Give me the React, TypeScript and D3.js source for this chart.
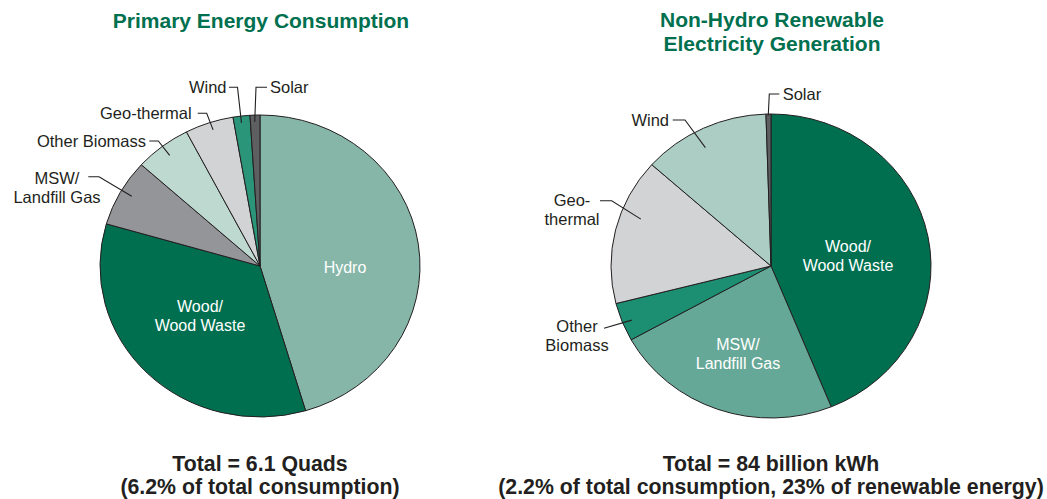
import React, { useEffect, useRef } from 'react';
import * as d3 from 'd3';

// --- data (shares, in percent) ---
const primaryCategories = ['Hydro', 'Wood/Wood Waste', 'MSW/Landfill Gas', 'Other Biomass', 'Geo-thermal', 'Wind', 'Solar'];
const primaryValues = [45.4, 34.1, 7.2, 5.7, 4.9, 1.7, 1.0];

const electricityCategories = ['Wood/Wood Waste', 'MSW/Landfill Gas', 'Other Biomass', 'Geo-thermal', 'Wind', 'Solar'];
const electricityValues = [43.9, 23.1, 4.1, 15.6, 12.9, 0.5];

const primaryTitle = ['Primary Energy Consumption'];
const primaryFooter = ['Total = 6.1 Quads', '(6.2% of total consumption)'];
const electricityTitle = ['Non-Hydro Renewable', 'Electricity Generation'];
const electricityFooter = ['Total = 84 billion kWh', '(2.2% of total consumption, 23% of renewable energy)'];

// --- styles ---
const FONT = '"Liberation Sans", Arial, sans-serif';
const TEXT = '#231f20';
const TITLE_GREEN = '#00704f';

const primaryColors: Record<string, string> = {
    'Hydro': '#85b6a7',
    'Wood/Wood Waste': '#006f4f',
    'MSW/Landfill Gas': '#939598',
    'Other Biomass': '#bdd9d0',
    'Geo-thermal': '#d1d3d4',
    'Wind': '#2b9579',
    'Solar': '#5d5f61',
};
const electricityColors: Record<string, string> = {
    'Wood/Wood Waste': '#006f4f',
    'MSW/Landfill Gas': '#66a897',
    'Other Biomass': '#1c8f73',
    'Geo-thermal': '#d1d3d4',
    'Wind': '#abcdc3',
    'Solar': '#5d5f61',
};

// label layout: lines, text anchor point, leader path start (elbow), and where on the slice it lands
interface LabelSpec {
    key: string;
    lines: string[];
    x: number;
    y: number; // first baseline
    anchor: 'start' | 'middle' | 'end';
    inner?: boolean;
    leader?: [number, number][]; // points before the slice point
    t?: number; // position across the slice (0..1)
    r?: number; // fraction of radius
}

const primaryLabels: LabelSpec[] = [
    { key: 'Hydro', lines: ['Hydro'], x: 345, y: 273, anchor: 'middle', inner: true },
    { key: 'Wood/Wood Waste', lines: ['Wood/', 'Wood Waste'], x: 200, y: 312, anchor: 'middle', inner: true },
    { key: 'MSW/Landfill Gas', lines: ['MSW/', 'Landfill Gas'], x: 57, y: 183.5, anchor: 'middle', leader: [[88.3, 176.7], [99, 176.7]], t: 0.53, r: 0.925 },
    { key: 'Other Biomass', lines: ['Other Biomass'], x: 146, y: 146.7, anchor: 'end', leader: [[149.3, 141], [158.3, 141]], t: 0.5, r: 0.925 },
    { key: 'Geo-thermal', lines: ['Geo-thermal'], x: 191.7, y: 119, anchor: 'end', leader: [[197.7, 113.3], [206.7, 113.3]], t: 0.53, r: 0.948 },
    { key: 'Wind', lines: ['Wind'], x: 226.5, y: 93, anchor: 'end', leader: [[229, 87.3], [237.5, 87.3]], t: 0.45, r: 0.955 },
    { key: 'Solar', lines: ['Solar'], x: 270, y: 93, anchor: 'start', leader: [[267, 87.3], [256, 87.3]], t: 0.45, r: 0.955 },
];

const electricityLabels: LabelSpec[] = [
    { key: 'Wood/Wood Waste', lines: ['Wood/', 'Wood Waste'], x: 848, y: 252, anchor: 'middle', inner: true },
    { key: 'MSW/Landfill Gas', lines: ['MSW/', 'Landfill Gas'], x: 738, y: 349.5, anchor: 'middle', inner: true },
    { key: 'Other Biomass', lines: ['Other', 'Biomass'], x: 577, y: 332.4, anchor: 'middle', leader: [[604, 328.3]], t: 0.46, r: 0.94 },
    { key: 'Geo-thermal', lines: ['Geo-', 'thermal'], x: 572, y: 205.7, anchor: 'middle', leader: [[600, 200.7], [611.7, 200.7]], t: 0.625, r: 0.87 },
    { key: 'Wind', lines: ['Wind'], x: 669, y: 125.7, anchor: 'end', leader: [[672.7, 120], [685, 120]], t: 0.44, r: 0.88 },
    { key: 'Solar', lines: ['Solar'], x: 782.7, y: 99.7, anchor: 'start', leader: [[779.3, 94], [769.3, 94]], t: 0.45, r: 0.99 },
];

interface PieSpec {
    categories: string[];
    values: number[];
    colors: Record<string, string>;
    labels: LabelSpec[];
    cx: number;
    cy: number;
    rx: number;
    ry: number;
    title: string[];
    titleY: number;
    footer: string[];
    footerY: number;
}

const WIDTH = 1047;
const HEIGHT = 499;

export default function App() {
    const svgRef = useRef<SVGSVGElement>(null);

    useEffect(() => {
        if (!svgRef.current) return;
        const svg = d3.select(svgRef.current);
        svg.selectAll('*').remove();

        const pies: PieSpec[] = [
            {
                categories: primaryCategories, values: primaryValues, colors: primaryColors, labels: primaryLabels,
                cx: 260, cy: 266, rx: 160, ry: 151,
                title: primaryTitle, titleY: 28, footer: primaryFooter, footerY: 470.5,
            },
            {
                categories: electricityCategories, values: electricityValues, colors: electricityColors, labels: electricityLabels,
                cx: 771, cy: 266, rx: 160, ry: 152,
                title: electricityTitle, titleY: 26.7, footer: electricityFooter, footerY: 470.5,
            },
        ];

        pies.forEach(p => {
            const data = p.categories.map((c, i) => ({ key: c, value: p.values[i] }));
            const pie = d3.pie<{ key: string; value: number }>()
                .sort(null)
                .value(d => d.value);
            const arcs = pie(data);
            const arc = d3.arc<d3.PieArcDatum<{ key: string; value: number }>>()
                .innerRadius(0)
                .outerRadius(p.rx);

            const g = svg.append('g')
                .attr('transform', `translate(${p.cx},${p.cy}) scale(1,${p.ry / p.rx})`);

            g.selectAll('path')
                .data(arcs)
                .enter()
                .append('path')
                .attr('d', arc)
                .attr('fill', d => p.colors[d.data.key])
                .attr('stroke', TEXT)
                .attr('stroke-width', 1)
                .attr('stroke-linejoin', 'round')
                .attr('vector-effect', 'non-scaling-stroke');

            // point on slice (screen coords)
            const pointOn = (key: string, t: number, r: number): [number, number] => {
                const a = arcs.find(d => d.data.key === key)!;
                const ang = a.startAngle + (a.endAngle - a.startAngle) * t;
                return [p.cx + Math.sin(ang) * r * p.rx, p.cy - Math.cos(ang) * r * p.ry];
            };

            p.labels.forEach(l => {
                const text = svg.append('text')
                    .attr('x', l.x)
                    .attr('y', l.y)
                    .attr('text-anchor', l.anchor)
                    .attr('font-family', FONT)
                    .attr('font-size', l.inner ? '16px' : '16.5px')
                    .attr('fill', l.inner ? '#ffffff' : TEXT);
                l.lines.forEach((line, i) => {
                    text.append('tspan')
                        .attr('x', l.x)
                        .attr('dy', i === 0 ? 0 : 19)
                        .text(line);
                });

                if (l.leader) {
                    const end = pointOn(l.key, l.t ?? 0.5, l.r ?? 0.9);
                    svg.append('path')
                        .attr('d', d3.line()([...l.leader, end]))
                        .attr('fill', 'none')
                        .attr('stroke', TEXT)
                        .attr('stroke-width', 1.1);
                }
            });

            const title = svg.append('text')
                .attr('x', p.cx + 1)
                .attr('y', p.titleY)
                .attr('text-anchor', 'middle')
                .attr('font-family', FONT)
                .attr('font-weight', 'bold')
                .attr('font-size', '21px')
                .attr('fill', TITLE_GREEN);
            p.title.forEach((line, i) => {
                title.append('tspan').attr('x', p.cx + 1).attr('dy', i === 0 ? 0 : 24.5).text(line);
            });

            const footer = svg.append('text')
                .attr('x', p.cx)
                .attr('y', p.footerY)
                .attr('text-anchor', 'middle')
                .attr('font-family', FONT)
                .attr('font-weight', 'bold')
                .attr('font-size', '21.3px')
                .attr('fill', TEXT);
            p.footer.forEach((line, i) => {
                footer.append('tspan').attr('x', p.cx).attr('dy', i === 0 ? 0 : 23).text(line);
            });
        });
    }, []);

    return (
        <svg
            ref={svgRef}
            width={WIDTH}
            height={HEIGHT}
            style={{ position: 'absolute', left: 0, top: 0, background: '#ffffff' }}
        />
    );
}
